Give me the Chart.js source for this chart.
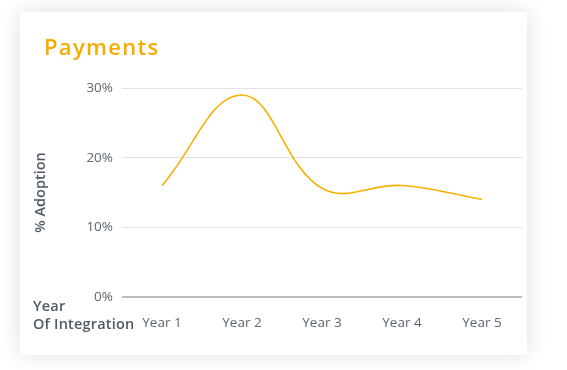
<!DOCTYPE html>
<html>
<head>
<meta charset="utf-8">
<script src="https://cdn.jsdelivr.net/npm/chart.js@4"></script>
<style>
  body {
    margin: 0;
    background: #fff;
    font-family: "Open Sans", sans-serif;
  }
  .card {
    position: absolute;
    left: 20px;
    top: 12px;
    width: 507px;
    height: 343px;
    background: #fff;
    box-shadow: 0 0 20px rgba(0, 0, 0, 0.13);
  }
  .title {
    position: absolute;
    left: 24px;
    top: 19px;
    margin: 0;
    font-size: 22px;
    font-weight: 600;
    letter-spacing: 1.3px;
    color: #f5ab00;
  }
  .xtitle {
    position: absolute;
    left: 13px;
    top: 285px;
    font-size: 14.5px;
    font-weight: 600;
    letter-spacing: 0.2px;
    line-height: 18px;
    color: #4e5a65;
  }
  canvas {
    position: absolute;
    left: 0;
    top: 0;
  }
</style>
</head>
<body>
<div class="card">
  <canvas id="paymentsChart" width="507" height="343"></canvas>
  <h2 class="title">Payments</h2>
  <div class="xtitle">Year<br>Of Integration</div>
</div>
<script>
const years = ["Year 1", "Year 2", "Year 3", "Year 4", "Year 5"];
const adoption = [16, 29, 15.6, 16, 14];
const yTicks = [0, 10, 20, 30];

const ctx = document
  .getElementById("paymentsChart")
  .getContext("2d");

new Chart(ctx, {
  type: "line",

  data: {
    labels: years,
    datasets: [{
      label: "Payments",
      data: adoption,
      borderColor: "#f5b000",
      borderWidth: 1.6,
      pointRadius: 0,
      tension: 0.4,
      fill: false
    }]
  },

  options: {
    responsive: false,
    animation: false,
    layout: {
      padding: { left: 0, right: 5, top: 76, bottom: 18 }
    },
    plugins: {
      legend: { display: false },
      tooltip: { enabled: false }
    },
    scales: {
      x: {
        offset: true,
        grid: { display: false },
        border: { display: false },
        ticks: {
          color: "#5b6670",
          padding: 10,
          font: { family: "Open Sans", size: 13.5 }
        },
        afterFit: (axis) => { axis.height = 40; }
      },
      y: {
        min: 0,
        max: 30,
        afterBuildTicks: (axis) => {
          axis.ticks = yTicks.map(v => ({ value: v }));
        },
        grid: {
          drawTicks: false,
          color: (c) => c.tick && c.tick.value === 0 ? "#bdbdbd" : "#e2e2e2",
          lineWidth: (c) => c.tick && c.tick.value === 0 ? 2 : 1
        },
        border: { display: false },
        ticks: {
          color: "#5b6670",
          padding: 9,
          font: { family: "Open Sans", size: 13.5 },
          callback: (v) => v + "%"
        },
        title: {
          display: true,
          text: "% Adoption",
          color: "#4e5a65",
          padding: { top: 12, bottom: 0 },
          font: { family: "Open Sans", size: 14.5, weight: "600" }
        },
        afterFit: (axis) => { axis.width = 102; }
      }
    }
  }
});
</script>
</body>
</html>
